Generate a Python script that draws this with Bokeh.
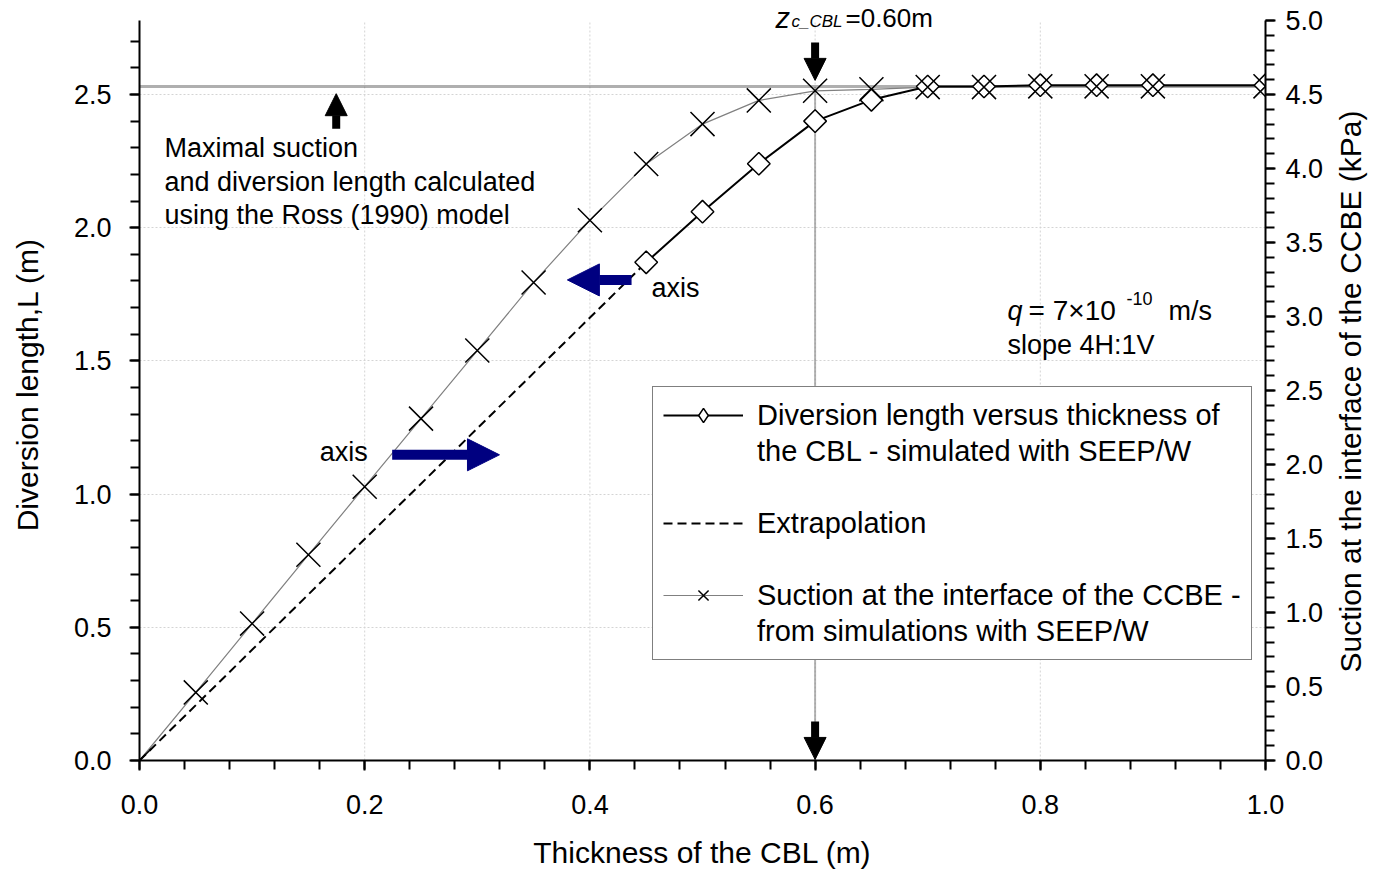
import math
from bokeh.plotting import figure
from bokeh.models import (Range1d, LinearAxis, FixedTicker, PrintfTickFormatter,
                          Legend, LegendItem, Label, Arrow, NormalHead,
                          ColumnDataSource)
from bokeh.embed import file_html
from bokeh.resources import INLINE

FONT = "Liberation Sans"

# ---------------- data ----------------
# Diversion length (left axis, m) simulated with SEEP/W
thickness_sim = [0.45, 0.50, 0.55, 0.60, 0.65, 0.70, 0.75, 0.80, 0.85, 0.90, 1.00]
diversion_length = [1.87, 2.06, 2.24, 2.40, 2.48, 2.53, 2.53, 2.535, 2.535, 2.535, 2.535]

# Extrapolation (left axis, m)
thickness_extrap = [0.0, 0.45]
diversion_extrap = [0.0, 1.87]

# Suction at the interface of the CCBE (right axis, kPa)
thickness_suction = [0.0, 0.05, 0.10, 0.15, 0.20, 0.25, 0.30, 0.35, 0.40, 0.45,
                     0.50, 0.55, 0.60, 0.65, 0.70, 0.75, 0.80, 0.85, 0.90, 1.00]
suction_kpa = [0.0, 0.46, 0.925, 1.39, 1.85, 2.31, 2.77, 3.23, 3.65, 4.03,
               4.30, 4.46, 4.525, 4.535, 4.55, 4.55, 4.555, 4.555, 4.555, 4.555]

max_diversion_ross = 2.53     # maximal diversion length / suction (Ross 1990)
z_c_cbl = 0.60                # critical CBL thickness

x_major = [0.0, 0.2, 0.4, 0.6, 0.8, 1.0]
x_minor = [round(0.04 * i, 2) for i in range(26)]
x_grid = [0.2, 0.4, 0.6, 0.8]
left_major = [0.0, 0.5, 1.0, 1.5, 2.0, 2.5]
left_minor = [round(0.1 * i, 1) for i in range(28)]
right_major = [0.0, 0.5, 1.0, 1.5, 2.0, 2.5, 3.0, 3.5, 4.0, 4.5, 5.0]
right_minor = [round(0.1 * i, 1) for i in range(51)]

RIGHT_AXIS_MAX = 5.0
LEFT_AXIS_MAX = RIGHT_AXIS_MAX / 1.8
HEADROOM = 760.0 / 740.0          # frame reaches a little above the axes' top
RIGHT_TITLE = "Suction at the interface of the CCBE (kPa)"
RIGHT_TITLE_START = 0.595         # kPa level where the right title begins

# ---------------- figure ----------------
p = figure(width=1386, height=873, output_backend="svg", toolbar_location=None,
           x_range=Range1d(0.0, 1.0), y_range=Range1d(0.0, LEFT_AXIS_MAX * HEADROOM),
           min_border_left=139, min_border_right=121, min_border_top=0,
           min_border_bottom=113)
p.extra_y_ranges = {"suction": Range1d(0.0, RIGHT_AXIS_MAX * HEADROOM),
                    "legend_key": Range1d(-20.0, -10.0)}
p.outline_line_color = None
p.background_fill_color = "white"
p.border_fill_color = "white"

def style_axis(ax, standoff):
    ax.axis_line_color = "black"
    ax.axis_line_width = 2
    ax.major_tick_line_color = "black"
    ax.major_tick_line_width = 2
    ax.minor_tick_line_color = "black"
    ax.minor_tick_line_width = 2
    ax.major_tick_in = 0
    ax.major_tick_out = 10
    ax.minor_tick_in = 0
    ax.minor_tick_out = 9
    ax.major_label_text_font = FONT
    ax.major_label_text_font_size = "27px"
    ax.major_label_text_color = "black"
    ax.major_label_standoff = standoff
    ax.axis_label_text_font = FONT
    ax.axis_label_text_font_size = "30px"
    ax.axis_label_text_font_style = "normal"
    ax.axis_label_text_color = "black"
    ax.formatter = PrintfTickFormatter(format="%.1f")

xax = p.xaxis[0]
style_axis(xax, 24)
xax.ticker = FixedTicker(ticks=x_major, minor_ticks=x_minor)
xax.axis_label = "Thickness of the CBL (m)"
xax.axis_label_standoff = 19

yax = p.yaxis[0]
style_axis(yax, 18)
yax.ticker = FixedTicker(ticks=left_major, minor_ticks=left_minor)
yax.axis_label = "Diversion length,L  (m)"
yax.axis_label_standoff = 27
yax.bounds = (0.0, LEFT_AXIS_MAX)

# right axis: ticks and tick labels
rax = LinearAxis(y_range_name="suction")
style_axis(rax, 10)
rax.ticker = FixedTicker(ticks=right_major, minor_ticks=right_minor)
rax.bounds = (0.0, RIGHT_AXIS_MAX)
p.add_layout(rax, "right")

# right axis title (reads bottom to top), drawn as the single label of a bare axis
rtitle = LinearAxis(y_range_name="suction")
style_axis(rtitle, 24)
rtitle.ticker = FixedTicker(ticks=[RIGHT_TITLE_START], minor_ticks=[])
rtitle.major_label_overrides = {RIGHT_TITLE_START: RIGHT_TITLE}
rtitle.major_label_orientation = math.pi / 2
rtitle.major_label_text_font_size = "30px"
rtitle.axis_line_color = None
rtitle.major_tick_line_color = None
rtitle.minor_tick_line_color = None
rtitle.major_tick_out = 0
rtitle.minor_tick_out = 0
p.add_layout(rtitle, "right")

p.xgrid.visible = False
p.ygrid.ticker = FixedTicker(ticks=left_major)
p.ygrid.grid_line_color = "#d4d4d4"
p.ygrid.grid_line_width = 1
p.ygrid.grid_line_dash = "2 2"
p.segment(x0=x_grid, y0=[0.0] * len(x_grid), x1=x_grid, y1=[LEFT_AXIS_MAX] * len(x_grid),
          line_color="#d4d4d4", line_width=1, line_dash="2 2", level="underlay")

# reference lines (Ross model maximum and critical thickness)
p.segment(x0=[0.0], y0=[max_diversion_ross], x1=[1.0], y1=[max_diversion_ross],
          line_color="#5e5e5e", line_width=3, line_dash="1 1")
p.segment(x0=[z_c_cbl], y0=[0.0], x1=[z_c_cbl], y1=[max_diversion_ross],
          line_color="#6a6a6a", line_width=2, line_dash="1 1")

# series
r_suc_line = p.line(thickness_suction, suction_kpa, y_range_name="suction",
                    line_color="#808080", line_width=1.2)
r_ext_line = p.line(thickness_extrap, diversion_extrap, line_color="black",
                    line_width=2, line_dash="9 5")
r_div_line = p.line(thickness_sim, diversion_length, line_color="black", line_width=2)
src_div = ColumnDataSource(dict(x=thickness_sim, y=diversion_length))
r_div_pts = p.scatter("x", "y", source=src_div, marker="square", size=16,
                      angle=math.pi / 4, fill_color="white", line_color="black",
                      line_width=1.5)
# diamond key for the legend (its range keeps it out of the plotting area)
r_div_key = p.scatter("x", "y", source=src_div, y_range_name="legend_key",
                      marker="diamond", size=16, fill_color="white",
                      line_color="black", line_width=1.5)
r_suc_pts = p.scatter(thickness_suction, suction_kpa, y_range_name="suction",
                      marker="x", size=34, line_color="black", line_width=1.5)

# arrows
def add_arrow(xs, ys, xe, ye, color, width, head):
    p.add_layout(Arrow(end=NormalHead(size=head, fill_color=color, line_color=color,
                                      line_width=1),
                       x_start=xs, y_start=ys, x_end=xe, y_end=ye,
                       line_color=color, line_width=width))

add_arrow(z_c_cbl, 2.695, z_c_cbl, 2.553, "black", 8, 22)
add_arrow(z_c_cbl, 0.146, z_c_cbl, 0.004, "black", 8, 22)
add_arrow(0.1747, 2.371, 0.1747, 2.503, "black", 8, 22)
add_arrow(0.437, 1.804, 0.380, 1.804, "#000080", 10, 32)
add_arrow(0.2244, 1.1475, 0.3197, 1.1475, "#000080", 10, 32)

# text annotations
def add_label(x, y, text, size="27px", style="normal"):
    p.add_layout(Label(x=x, y=y, text=text, text_font=FONT, text_font_size=size,
                       text_font_style=style, text_color="black", text_align="left",
                       text_baseline="alphabetic"))

add_label(0.0222, 2.298, "Maximal suction")
add_label(0.0222, 2.171, "and diversion length calculated")
add_label(0.0222, 2.047, "using the Ross (1990) model")
add_label(0.4547, 1.774, "axis")
add_label(0.1601, 1.1595, "axis")
add_label(0.7709, 1.688, "q", style="italic")
add_label(0.7896, 1.688, "= 7×10", size="28px")
add_label(0.8765, 1.736, "-10", size="18px")
add_label(0.9139, 1.688, "m/s")
add_label(0.7709, 1.560, "slope 4H:1V")
add_label(0.5648, 2.7875, "z", size="29px", style="italic")
add_label(0.579, 2.7725, "c_CBL", size="17px", style="italic")
add_label(0.627, 2.7875, "=0.60m", size="26px")

# legend
legend = Legend(items=[
    LegendItem(label="Diversion length versus thickness of", renderers=[r_div_line, r_div_key]),
    LegendItem(label="the CBL - simulated with SEEP/W", renderers=[]),
    LegendItem(label=" ", renderers=[]),
    LegendItem(label="Extrapolation", renderers=[r_ext_line]),
    LegendItem(label=" ", renderers=[]),
    LegendItem(label="Suction at the interface of the CCBE -", renderers=[r_suc_line, r_suc_pts]),
    LegendItem(label="from simulations with SEEP/W", renderers=[]),
], location=(513, 100))
legend.label_text_font = FONT
legend.label_text_font_size = "29px"
legend.label_text_color = "black"
legend.glyph_width = 80
legend.glyph_height = 36
legend.label_height = 36
legend.label_standoff = 14
legend.padding = 10
legend.spacing = 0
legend.margin = 0
legend.border_line_color = "black"
legend.border_line_width = 1.5
legend.background_fill_color = "white"
legend.background_fill_alpha = 1.0
p.add_layout(legend)

open("out.html", "w").write(file_html(p, INLINE))
